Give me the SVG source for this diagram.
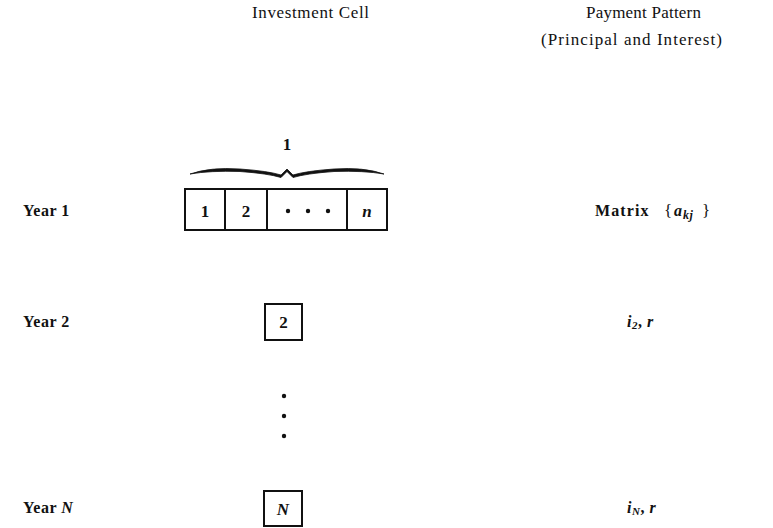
<svg xmlns="http://www.w3.org/2000/svg" width="773" height="528" viewBox="0 0 773 528">
<style>
  text { font-family: "Liberation Serif", "DejaVu Serif", serif; fill: #111; font-size: 16px; }
  .hdr { font-size: 17px; }
  .lbl { font-weight: bold; letter-spacing: 0.5px; }
  .cell { text-anchor: middle; font-weight: bold; font-size: 17px; }
  .it { font-style: italic; font-weight: bold; }
  .sub { font-size: 11px; font-style: italic; font-weight: bold; }
  .sub2 { font-size: 12px; font-style: italic; font-weight: bold; letter-spacing: 0.5px; }
  .br { font-size: 17px; }
  .box { fill: none; stroke: #111; stroke-width: 2; }
  .dot { fill: #111; }
</style>
<rect width="773" height="528" fill="#fff"/>

<g id="headers">
  <text class="hdr" x="252" y="18" textLength="117" lengthAdjust="spacing">Investment Cell</text>
  <text class="hdr" x="586" y="18" textLength="115" lengthAdjust="spacing">Payment Pattern</text>
  <text class="hdr" x="541" y="45" textLength="181" lengthAdjust="spacing">(Principal and Interest)</text>
</g>

<g id="brace">
  <text class="cell" x="287" y="150">1</text>
  <path d="M190,174 Q210,167 240,169 Q268,171 281,175 L287,169 L293,175 Q306,171 334,169 Q364,167 384,174 Q364,170.5 334,171.5 Q306,173.5 293,177.5 L287,171.5 L281,177.5 Q268,173.5 240,171.5 Q210,170.5 190,174 Z" fill="#111" stroke="#111" stroke-width="0.8"/>
</g>

<g id="year1">
  <text class="lbl" x="23" y="216">Year 1</text>
  <rect class="box" x="185" y="189" width="202" height="41"/>
  <line class="box" x1="225" y1="189" x2="225" y2="230"/>
  <line class="box" x1="267" y1="189" x2="267" y2="230"/>
  <line class="box" x1="347" y1="189" x2="347" y2="230"/>
  <text class="cell" x="205" y="217">1</text>
  <text class="cell" x="246" y="217">2</text>
  <circle class="dot" cx="288" cy="211" r="2.2"/>
  <circle class="dot" cx="308" cy="211" r="2.2"/>
  <circle class="dot" cx="328" cy="211" r="2.2"/>
  <text class="cell it" x="367" y="217">n</text>
  <text class="lbl" x="595" y="216" textLength="54" lengthAdjust="spacing">Matrix</text>
  <text class="br" x="664" y="216">{</text>
  <text class="it" x="674" y="216">a</text>
  <text class="sub2" x="683" y="219">kj</text>
  <text class="br" x="702" y="216">}</text>
</g>

<g id="year2">
  <text class="lbl" x="23" y="327">Year 2</text>
  <rect class="box" x="265" y="304" width="37" height="36"/>
  <text class="cell" x="283.5" y="328">2</text>
  <text class="lbl" x="627" y="327"><tspan class="it">i</tspan><tspan class="sub" dy="2">2</tspan><tspan dy="-2">, </tspan><tspan class="it">r</tspan></text>
</g>

<g id="ellipsis">
  <circle class="dot" cx="284" cy="396" r="2.2"/>
  <circle class="dot" cx="284" cy="416" r="2.2"/>
  <circle class="dot" cx="284" cy="436" r="2.2"/>
</g>

<g id="yearN">
  <text class="lbl" x="23" y="513">Year <tspan class="it">N</tspan></text>
  <rect class="box" x="264" y="491" width="38" height="35"/>
  <text class="cell it" x="283" y="515">N</text>
  <text class="lbl" x="627" y="513"><tspan class="it">i</tspan><tspan class="sub" dy="2">N</tspan><tspan dy="-2">, </tspan><tspan class="it">r</tspan></text>
</g>

<g id="connectors"/>
</svg>
